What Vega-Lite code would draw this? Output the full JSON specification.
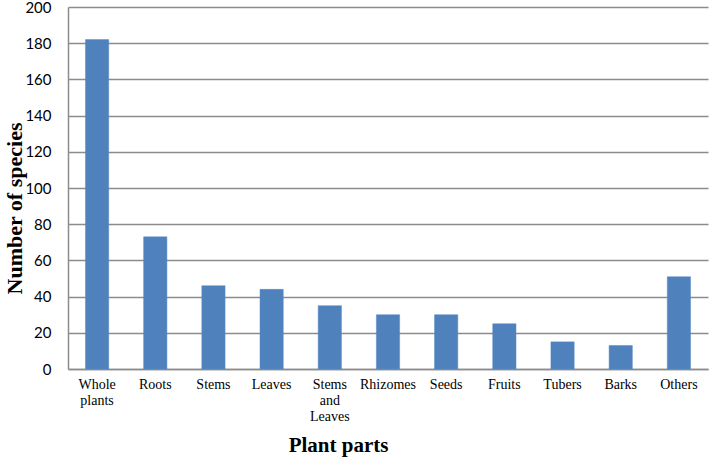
{
  "$schema": "https://vega.github.io/schema/vega-lite/v6.json",
  "autosize": "none",
  "width": 640,
  "height": 362,
  "padding": {"left": 68, "top": 7, "right": 1, "bottom": 89},
  "background": "white",
  "data": {
    "values": [
      {"part": "Whole plants", "species": 182},
      {"part": "Roots", "species": 73},
      {"part": "Stems", "species": 46},
      {"part": "Leaves", "species": 44},
      {"part": "Stems and Leaves", "species": 35},
      {"part": "Rhizomes", "species": 30},
      {"part": "Seeds", "species": 30},
      {"part": "Fruits", "species": 25},
      {"part": "Tubers", "species": 15},
      {"part": "Barks", "species": 13},
      {"part": "Others", "species": 51}
    ]
  },
  "mark": {"type": "bar", "color": "#4F81BD", "stroke": "#5B8BC6", "strokeWidth": 0.5},
  "encoding": {
    "x": {
      "field": "part",
      "type": "nominal",
      "sort": null,
      "scale": {"paddingInner": 0.6, "paddingOuter": 0.3},
      "axis": {
        "title": "Plant parts",
        "titleFont": "Liberation Serif",
        "titleFontSize": 21,
        "titleFontWeight": "bold",
        "titleColor": "black",
        "titleX": 270,
        "titleY": 82,
        "titleBaseline": "alphabetic",
        "titleAnchor": "middle",
        "titleAlign": "center",
        "labelAngle": 0,
        "labelFont": "Liberation Serif",
        "labelFontSize": 14,
        "labelColor": "black",
        "labelPadding": 8,
        "labelLineHeight": 16,
        "labelExpr": "datum.value == 'Whole plants' ? ['Whole', 'plants'] : datum.value == 'Stems and Leaves' ? ['Stems', 'and', 'Leaves'] : datum.value",
        "ticks": false,
        "domainColor": "#8C8C8C",
        "domainWidth": 1.5,
        "grid": false
      }
    },
    "y": {
      "field": "species",
      "type": "quantitative",
      "scale": {"domain": [0, 200], "nice": false},
      "axis": {
        "values": [0, 20, 40, 60, 80, 100, 120, 140, 160, 180, 200],
        "title": "Number of species",
        "titleFont": "Liberation Serif",
        "titleFontSize": 22,
        "titleFontWeight": "bold",
        "titleColor": "black",
        "titleAngle": -90,
        "titleX": -54,
        "titleY": 201,
        "titleAlign": "center",
        "titleBaseline": "middle",
        "labelFont": "Lato",
        "labelFontSize": 15,
        "labelColor": "black",
        "labelPadding": 17,
        "ticks": false,
        "domainColor": "#8C8C8C",
        "domainWidth": 1.5,
        "grid": true,
        "gridColor": "#8C8C8C",
        "gridWidth": 1.5
      }
    }
  },
  "config": {"view": {"stroke": null}}
}
